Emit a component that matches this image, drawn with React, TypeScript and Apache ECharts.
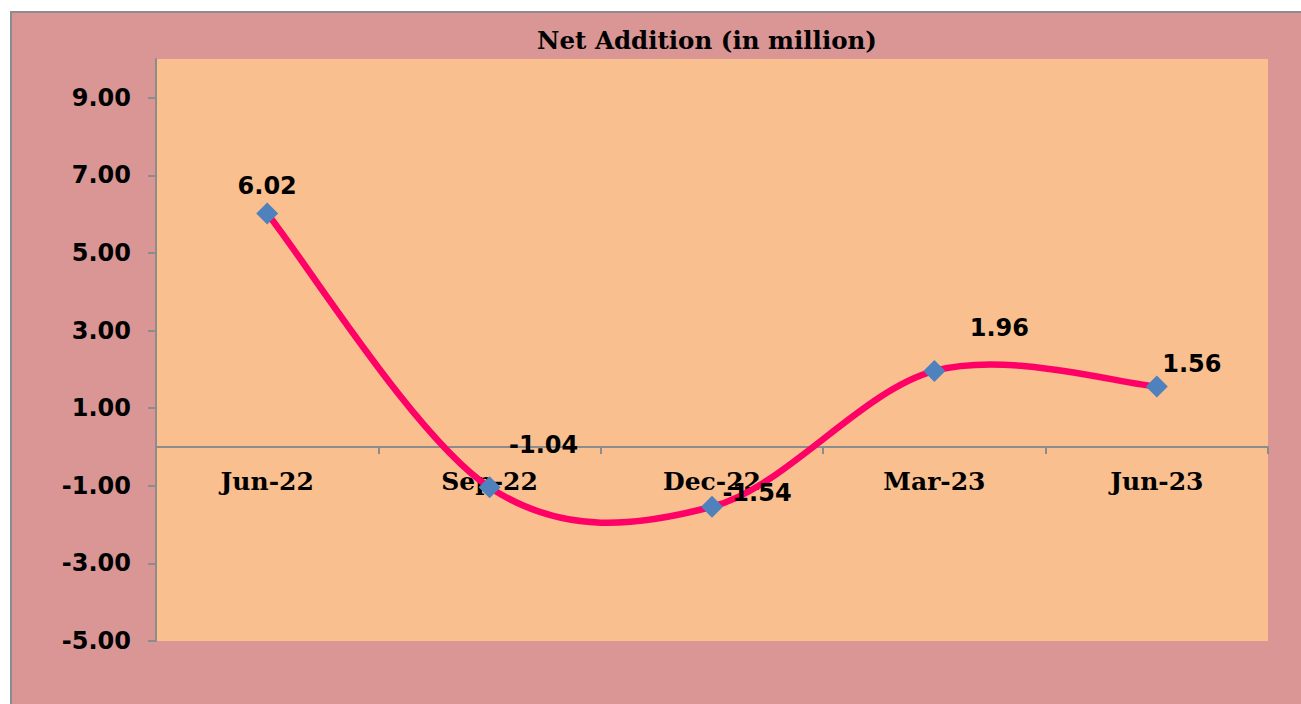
import React, { useEffect, useRef } from "react";
import * as echarts from "echarts";

const categories = ["Jun-22", "Sep-22", "Dec-22", "Mar-23", "Jun-23"];
const netAddition = [6.02, -1.04, -1.54, 1.96, 1.56];
const yTickValues = [-5, -3, -1, 1, 3, 5, 7, 9];
const labelOffsets = [
  [0, -27],
  [54, -42],
  [45, -14],
  [65, -43],
  [35, -22],
];

const Y_MIN = -5;
const Y_MAX = 10;
const GRID_TOP = 59;
const GRID_BOTTOM = 63;
const CHART_H = 704;

export default function App() {
  const ref = useRef<HTMLDivElement>(null);
  useEffect(() => {
    document.body.style.margin = "0";
    const chart = echarts.init(ref.current!, null, { renderer: "svg" });
    const gridH = CHART_H - GRID_TOP - GRID_BOTTOM;
    const zeroOffset = -(gridH * (0 - Y_MIN)) / (Y_MAX - Y_MIN);
    const n = netAddition.length;
    chart.setOption({
      animation: false,
      backgroundColor: "#ffffff",
      graphic: [
        {
          type: "rect",
          z: -10,
          shape: { x: 11, y: 12, width: 1300, height: 700 },
          style: { fill: "#D99694", stroke: "#8C8C8C", lineWidth: 2 },
          silent: true,
        },
      ],
      title: {
        text: "Net Addition (in million)",
        left: 702,
        textAlign: "center",
        top: 23,
        textStyle: {
          fontFamily: "DejaVu Serif",
          fontWeight: "bold",
          fontSize: 24.5,
          color: "#000",
        },
      },
      grid: {
        left: 156,
        right: 33,
        top: GRID_TOP,
        bottom: GRID_BOTTOM,
        show: true,
        backgroundColor: "#F9BF8F",
        borderWidth: 0,
      },
      xAxis: {
        type: "category",
        data: categories,
        boundaryGap: true,
        offset: zeroOffset,
        axisLine: { onZero: false, lineStyle: { color: "#8C8C8C", width: 2 } },
        axisTick: { show: true, length: 7, lineStyle: { color: "#8C8C8C", width: 2 } },
        axisLabel: {
          margin: 22,
          fontFamily: "DejaVu Serif",
          fontWeight: "bold",
          fontSize: 25,
          color: "#000",
        },
      },
      yAxis: {
        type: "value",
        min: Y_MIN,
        max: Y_MAX,
        interval: 2,
        splitLine: { show: false },
        axisLine: { show: true, lineStyle: { color: "#8C8C8C", width: 2 } },
        axisTick: {
          show: true,
          length: 8,
          customValues: yTickValues,
          lineStyle: { color: "#8C8C8C", width: 2 },
        },
        axisLabel: {
          customValues: yTickValues,
          margin: 25,
          fontFamily: "DejaVu Sans",
          fontWeight: "bold",
          fontSize: 24,
          color: "#000",
          formatter: (v: number) => v.toFixed(2),
        },
      },
      series: [
        {
          type: "custom",
          data: netAddition.map((v, i) => [i, v]),
          z: 2,
          silent: true,
          renderItem: (params: any, api: any) => {
            const i = params.dataIndex;
            if (i >= n - 1) return null;
            const pt = (k: number) => {
              const kk = Math.max(0, Math.min(n - 1, k));
              return api.coord([kk, netAddition[kk]]);
            };
            const p0 = pt(i - 1);
            const p1 = pt(i);
            const p2 = pt(i + 1);
            const p3 = pt(i + 2);
            return {
              type: "bezierCurve",
              shape: {
                x1: p1[0],
                y1: p1[1],
                cpx1: p1[0] + (p2[0] - p0[0]) / 6,
                cpy1: p1[1] + (p2[1] - p0[1]) / 6,
                cpx2: p2[0] - (p3[0] - p1[0]) / 6,
                cpy2: p2[1] - (p3[1] - p1[1]) / 6,
                x2: p2[0],
                y2: p2[1],
              },
              style: { stroke: "#FF0066", lineWidth: 6.5, fill: "none", lineCap: "round" },
            };
          },
        },
        {
          type: "line",
          data: netAddition.map((v, i) => ({
            value: v,
            label: { offset: labelOffsets[i] },
          })),
          lineStyle: { width: 0, opacity: 0 },
          symbol: "diamond",
          symbolSize: 22,
          itemStyle: { color: "#4F81BD" },
          label: {
            show: true,
            position: "inside",
            fontFamily: "DejaVu Sans",
            fontWeight: "bold",
            fontSize: 24,
            color: "#000",
            formatter: (p: any) => p.value.toFixed(2),
          },
          z: 3,
        },
      ],
    });
    return () => chart.dispose();
  }, []);
  return <div ref={ref} style={{ width: 1301, height: 704 }} />;
}
